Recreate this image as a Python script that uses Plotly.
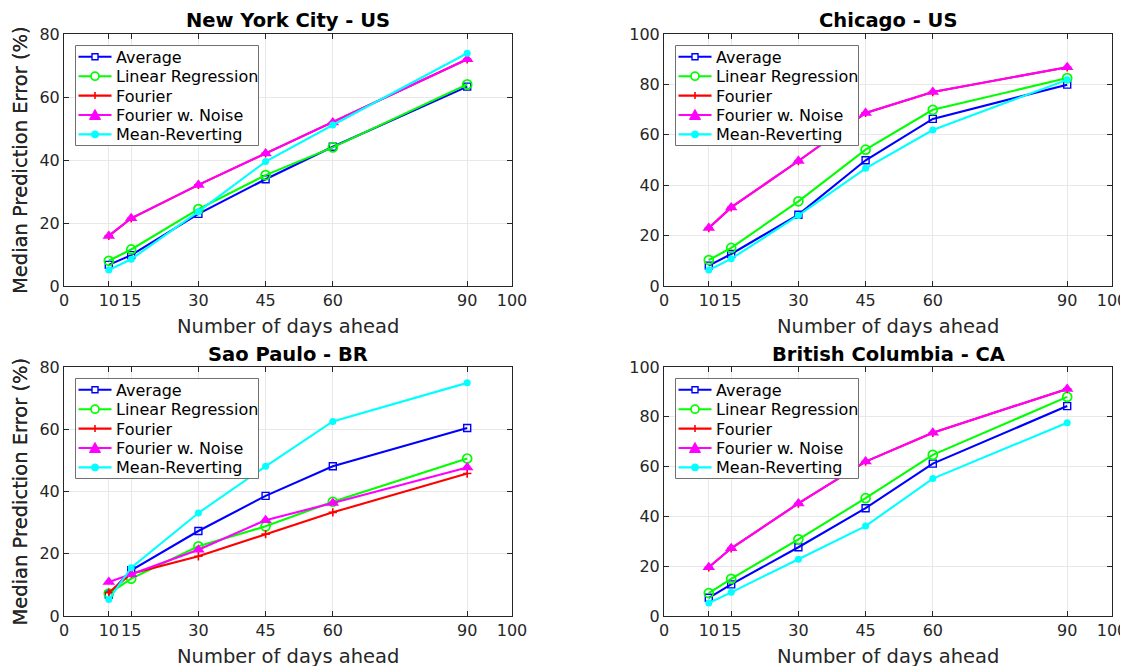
import plotly.graph_objects as go

days = [10, 15, 30, 45, 60, 90]
x_tick_vals = [0, 10, 15, 30, 45, 60, 90, 100]
x_tick_text = ["0", "10", "15", "30", "45", "60", "90", "100"]

titles = ["New York City - US", "Chicago - US", "Sao Paulo - BR", "British Columbia - CA"]
y_max = [80, 100, 80, 100]

series_names = ["Average", "Linear Regression", "Fourier", "Fourier w. Noise", "Mean-Reverting"]

# New York City
nyc_average = [6.7, 9.8, 22.9, 33.9, 44.2, 63.3]
nyc_linreg = [8.0, 11.6, 24.4, 35.2, 44.0, 64.0]
nyc_fourier = [15.9, 21.5, 32.1, 42.1, 51.9, 72.0]
nyc_fourier_noise = [15.9, 21.5, 32.1, 42.1, 51.9, 72.0]
nyc_mean_rev = [5.1, 8.5, 23.6, 39.5, 51.1, 73.9]

# Chicago
chi_average = [8.1, 12.7, 28.3, 49.9, 66.3, 79.9]
chi_linreg = [10.3, 15.1, 33.6, 54.1, 69.9, 82.5]
chi_fourier = [23.0, 31.2, 49.6, 68.7, 77.0, 86.8]
chi_fourier_noise = [23.0, 31.2, 49.6, 68.7, 77.0, 86.8]
chi_mean_rev = [6.3, 10.8, 28.0, 46.7, 61.9, 81.8]

# Sao Paulo
sp_average = [6.9, 14.7, 27.3, 38.6, 48.1, 60.4]
sp_linreg = [7.2, 12.0, 22.4, 28.8, 36.7, 50.6]
sp_fourier = [7.5, 13.6, 19.2, 26.3, 33.3, 45.8]
sp_fourier_noise = [10.9, 13.4, 21.3, 30.8, 36.3, 47.7]
sp_mean_rev = [5.3, 15.5, 33.1, 48.1, 62.5, 74.9]

# British Columbia
bc_average = [7.3, 12.7, 27.6, 43.3, 61.2, 84.3]
bc_linreg = [9.2, 14.9, 30.8, 47.3, 64.7, 88.0]
bc_fourier = [19.6, 27.2, 45.2, 62.0, 73.6, 91.2]
bc_fourier_noise = [19.6, 27.2, 45.2, 62.0, 73.6, 91.2]
bc_mean_rev = [5.2, 9.5, 22.8, 36.1, 55.2, 77.6]

panels = [
    [nyc_average, nyc_linreg, nyc_fourier, nyc_fourier_noise, nyc_mean_rev],
    [chi_average, chi_linreg, chi_fourier, chi_fourier_noise, chi_mean_rev],
    [sp_average, sp_linreg, sp_fourier, sp_fourier_noise, sp_mean_rev],
    [bc_average, bc_linreg, bc_fourier, bc_fourier_noise, bc_mean_rev],
]

colors = ["#0000FF", "#00FF00", "#FF0000", "#FF00FF", "#00FFFF"]
markers = [
    dict(symbol="square-open", size=7, line=dict(width=1.4)),
    dict(symbol="circle-open", size=9, line=dict(width=1.7)),
    dict(symbol="cross-thin-open", size=6, line=dict(width=1.6)),
    dict(symbol="triangle-up", size=11),
    dict(symbol="circle", size=7),
]

OFF = 8  # page body margin offset
W, H = 1128 - OFF, 666 - OFF
# axes boxes in window pixels: (left, right), (top, bottom)
x_doms = [(64, 512), (664, 1112), (64, 512), (664, 1112)]
y_doms = [(34, 286), (34, 286), (367, 616), (367, 616)]

FONT = "DejaVu Sans"
TXT = "#262626"


def px(x):
    return (x - OFF) / W


def py(y):
    return 1 - (y - OFF) / H


fig = go.Figure()
shapes = []
annotations = []

for p in range(4):
    ax = "" if p == 0 else str(p + 1)
    for s in range(5):
        fig.add_trace(go.Scatter(
            x=days, y=panels[p][s], name=series_names[s], mode="lines+markers",
            line=dict(color=colors[s], width=2.1),
            marker=dict(color=colors[s], **markers[s]),
            xaxis="x" + ax, yaxis="y" + ax, showlegend=False,
        ))
    x0, x1 = x_doms[p]
    y0, y1 = y_doms[p]
    common = dict(showline=True, linecolor=TXT, linewidth=1, mirror="ticks",
                  ticks="inside", ticklen=5, tickcolor=TXT, showgrid=True,
                  gridcolor="#e8e8e8", gridwidth=1, zeroline=False,
                  tickfont=dict(family=FONT, size=16, color=TXT))
    fig.update_layout({
        "xaxis" + ax: dict(domain=[px(x0), px(x1)], range=[0, 100], tickvals=x_tick_vals,
                           ticktext=x_tick_text, anchor="y" + ax, **common),
        "yaxis" + ax: dict(domain=[py(y1), py(y0)], range=[0, y_max[p]],
                           dtick=20, anchor="x" + ax, **common),
    })
    cx = px((x0 + x1) / 2)
    annotations.append(dict(text="<b>" + titles[p] + "</b>", x=cx, y=py(y0 - 13),
                            xanchor="center", yanchor="middle",
                            font=dict(family=FONT, size=19.5, color="black")))
    annotations.append(dict(text="Number of days ahead", x=cx, y=py(y1 + 40),
                            xanchor="center", yanchor="middle",
                            font=dict(family=FONT, size=19.5, color=TXT)))
    annotations.append(dict(text="Median Prediction Error (%)", x=px(20),
                            y=py((y0 + y1) / 2), xanchor="center", yanchor="middle",
                            textangle=-90,
                            font=dict(family=FONT, size=19.5, color=TXT)))

    # legend box (drawn manually to match MATLAB's compact legend)
    bl, bt = x0 + 11.5, y0 + 11.5
    bw, bh = 183, 100
    shapes.append(dict(type="rect", x0=px(bl), x1=px(bl + bw), y0=py(bt), y1=py(bt + bh),
                       line=dict(color="#707070", width=1), fillcolor="white"))
    for s in range(5):
        ry = bt + 11.3 + 19.4 * s
        c = colors[s]
        shapes.append(dict(type="line", x0=px(bl + 3), x1=px(bl + 36), y0=py(ry), y1=py(ry),
                           line=dict(color=c, width=2.1)))
        mx = bl + 19.5
        if s == 0:
            shapes.append(dict(type="rect", x0=px(mx - 3), x1=px(mx + 3), y0=py(ry - 3), y1=py(ry + 3),
                               line=dict(color=c, width=1.4), fillcolor="white"))
        elif s == 1:
            shapes.append(dict(type="circle", x0=px(mx - 4), x1=px(mx + 4), y0=py(ry - 4), y1=py(ry + 4),
                               line=dict(color=c, width=1.7), fillcolor="white"))
        elif s == 2:
            shapes.append(dict(type="line", x0=px(mx), x1=px(mx), y0=py(ry - 3.5), y1=py(ry + 3.5),
                               line=dict(color=c, width=1.6)))
        elif s == 3:
            path = "M {:.5f} {:.5f} L {:.5f} {:.5f} L {:.5f} {:.5f} Z".format(
                px(mx - 5.5), py(ry + 4.5), px(mx + 5.5), py(ry + 4.5), px(mx), py(ry - 5.5))
            shapes.append(dict(type="path", path=path, line=dict(color=c, width=1), fillcolor=c))
        else:
            shapes.append(dict(type="circle", x0=px(mx - 3.5), x1=px(mx + 3.5), y0=py(ry - 3.5), y1=py(ry + 3.5),
                               line=dict(color=c, width=1), fillcolor=c))
        annotations.append(dict(text=series_names[s], x=px(bl + 38), y=py(ry + 0.5),
                                xanchor="left", yanchor="middle",
                                font=dict(family=FONT, size=16, color="black")))

for sh in shapes:
    sh.update(xref="paper", yref="paper", layer="above")
for an in annotations:
    an.update(xref="paper", yref="paper", showarrow=False)

fig.update_layout(width=W, height=H,
                  margin=dict(l=0, r=0, t=0, b=0, pad=0, autoexpand=False),
                  paper_bgcolor="white", plot_bgcolor="white", showlegend=False,
                  shapes=shapes, annotations=annotations)
fig.write_html("out.html",
               post_script="document.documentElement.style.overflow='hidden';"
                           "document.body.style.overflow='hidden';")
